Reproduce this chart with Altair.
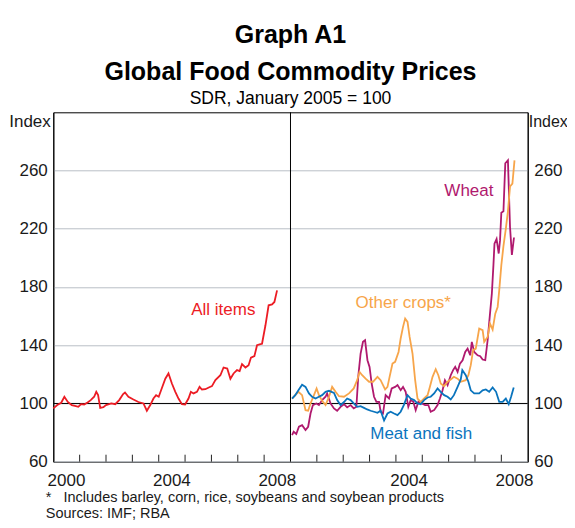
import altair as alt
import pandas as pd

FONT = "Liberation Sans"

# ---------------- data ----------------
series_names = ["All items", "Wheat", "Other crops*", "Meat and fish"]
series_colors = ["#ec1c24", "#b0196e", "#f7a54a", "#0a74bd"]

# left panel
all_items = [
    (2000.0, 96.6), (2000.15, 98.9), (2000.3, 100.5), (2000.42, 104.6), (2000.55, 101),
    (2000.7, 98.9), (2000.82, 98.4), (2000.95, 97.7), (2001.05, 99.5), (2001.17, 99.3),
    (2001.3, 100.7), (2001.42, 102.3), (2001.55, 104.6), (2001.63, 108), (2001.7, 105.7),
    (2001.78, 97), (2001.9, 97.5), (2002.0, 98.9), (2002.2, 100), (2002.35, 99.5),
    (2002.5, 102.3), (2002.65, 106.5), (2002.72, 107.5), (2002.85, 104.6), (2003.04, 102.7),
    (2003.23, 101), (2003.42, 100), (2003.55, 95), (2003.68, 98.9), (2003.8, 103.4),
    (2003.9, 105.7), (2004.0, 104.6), (2004.1, 109.6), (2004.25, 117), (2004.37, 120.6),
    (2004.5, 113.7), (2004.63, 108), (2004.75, 103.4), (2004.88, 99.5), (2005.0, 99.3),
    (2005.13, 103.4), (2005.22, 108), (2005.32, 106.9), (2005.45, 108), (2005.55, 111.4),
    (2005.64, 109.6), (2005.77, 109.8), (2005.9, 111), (2006.02, 111.9), (2006.15, 116),
    (2006.34, 119.4), (2006.46, 124.7), (2006.6, 124), (2006.72, 117), (2006.84, 120.6),
    (2006.97, 122.9), (2007.07, 122.2), (2007.16, 127), (2007.29, 124.7), (2007.41, 126.3),
    (2007.5, 131.5), (2007.63, 132.5), (2007.73, 140), (2007.86, 140.7), (2007.92, 141),
    (2008.05, 153.7), (2008.17, 167.4), (2008.3, 168), (2008.39, 169.7), (2008.49, 177.7),
]

# right panel
wheat = [
    (2000.06, 78.3), (2000.12, 80.6), (2000.22, 79), (2000.32, 84), (2000.44, 85.1),
    (2000.57, 81.7), (2000.67, 84), (2000.76, 93.1), (2000.85, 98.9), (2000.98, 100),
    (2001.08, 98.9), (2001.2, 102.3), (2001.33, 104.6), (2001.39, 106.9), (2001.52, 100),
    (2001.65, 96.6), (2001.77, 95), (2001.9, 97.7), (2002.03, 99.5), (2002.15, 97.3),
    (2002.28, 98.9), (2002.4, 96.6), (2002.5, 97.7), (2002.57, 118.3), (2002.66, 134.3),
    (2002.75, 142.3), (2002.83, 143.4), (2002.92, 129.7), (2003.0, 125.1), (2003.08, 113.7),
    (2003.17, 104.6), (2003.26, 101.1), (2003.36, 101.1), (2003.42, 94.3), (2003.51, 93.1),
    (2003.61, 105.7), (2003.74, 103.4), (2003.84, 110.3), (2003.97, 111.4), (2004.06, 112.6),
    (2004.18, 109.1), (2004.27, 111.4), (2004.37, 108), (2004.47, 97.7), (2004.56, 102.3),
    (2004.66, 101.1), (2004.75, 95.4), (2004.85, 101.1), (2004.98, 100), (2005.11, 98.9),
    (2005.23, 98.9), (2005.32, 94.3), (2005.45, 95.4), (2005.58, 98.9), (2005.67, 103.4),
    (2005.77, 109.1), (2005.86, 116), (2005.96, 112.6), (2006.08, 119.4), (2006.17, 122.9),
    (2006.25, 125.1), (2006.34, 121.7), (2006.43, 127.4), (2006.53, 129.7), (2006.63, 135.4),
    (2006.72, 137.7), (2006.82, 133.1), (2006.88, 142.3), (2006.97, 135.4), (2007.1, 133.1),
    (2007.2, 132.5), (2007.29, 130.2), (2007.39, 129.7), (2007.48, 143.4), (2007.57, 161.7),
    (2007.64, 175.4), (2007.7, 195), (2007.74, 209.7), (2007.82, 213), (2007.9, 203),
    (2007.95, 212), (2008.0, 231), (2008.08, 232), (2008.15, 265), (2008.25, 267),
    (2008.33, 221), (2008.4, 202), (2008.48, 214),
]

other_crops = [
    (2000.06, 103.4), (2000.18, 105.7), (2000.3, 108), (2000.44, 105.7), (2000.57, 95.4),
    (2000.67, 95), (2000.76, 100), (2000.89, 105.7), (2000.99, 110.3), (2001.08, 105.7),
    (2001.2, 101.8), (2001.33, 98.9), (2001.46, 104.6), (2001.58, 111.4), (2001.71, 108),
    (2001.84, 105), (2002.03, 104.6), (2002.22, 106.9), (2002.4, 110.3), (2002.53, 116),
    (2002.62, 121.7), (2002.72, 119.4), (2002.85, 117), (2002.98, 114.9), (2003.13, 114.9),
    (2003.3, 118.3), (2003.42, 116), (2003.59, 109.6), (2003.68, 111.4), (2003.76, 118.3),
    (2003.87, 127.4), (2003.97, 128.6), (2004.1, 135.4), (2004.18, 144.6), (2004.27, 152.6),
    (2004.35, 158.3), (2004.44, 156), (2004.52, 145.7), (2004.63, 134.3), (2004.73, 116),
    (2004.82, 103.4), (2004.94, 101.1), (2005.07, 103.4), (2005.2, 105.7), (2005.29, 111.4),
    (2005.39, 118.3), (2005.51, 123.5), (2005.61, 119.4), (2005.7, 113.7), (2005.83, 111.9),
    (2005.96, 114.9), (2006.08, 116.5), (2006.2, 118.3), (2006.34, 117), (2006.46, 114.9),
    (2006.65, 116), (2006.75, 119.4), (2006.84, 126.3), (2006.93, 136.6), (2007.03, 137.7),
    (2007.16, 151.4), (2007.29, 150.3), (2007.35, 142.3), (2007.48, 145.7), (2007.57, 154.9),
    (2007.67, 150.7), (2007.77, 161.7), (2007.86, 166.3), (2007.92, 177.7), (2008.0, 195),
    (2008.08, 208), (2008.17, 220), (2008.25, 232), (2008.33, 249), (2008.42, 251),
    (2008.5, 267),
]

meat_fish = [
    (2000.06, 103.4), (2000.18, 105.7), (2000.3, 109), (2000.44, 112.8), (2000.57, 111.4),
    (2000.7, 106.9), (2000.82, 104.6), (2000.95, 103.4), (2001.08, 104.6), (2001.2, 105.7),
    (2001.33, 108), (2001.46, 108.7), (2001.65, 107.3), (2001.77, 102.3), (2001.9, 98.9),
    (2002.03, 101), (2002.15, 103.4), (2002.28, 102.3), (2002.4, 100), (2002.53, 97.7),
    (2002.66, 98.2), (2002.79, 97), (2002.91, 95.9), (2003.04, 95), (2003.17, 94.3),
    (2003.3, 93.6), (2003.42, 95), (2003.55, 88.3), (2003.68, 93.1), (2003.8, 94.3),
    (2003.93, 93.1), (2004.06, 92), (2004.18, 94.3), (2004.3, 98.9), (2004.44, 105.7),
    (2004.56, 103.4), (2004.69, 102.3), (2004.82, 100), (2004.94, 99.5), (2005.07, 102.3),
    (2005.2, 104.1), (2005.32, 104.6), (2005.45, 106.9), (2005.58, 110.3), (2005.7, 108),
    (2005.83, 105.7), (2005.96, 104.6), (2006.08, 102.7), (2006.2, 105.7), (2006.34, 111.4),
    (2006.46, 116.5), (2006.52, 122.9), (2006.65, 119.4), (2006.75, 114.9), (2006.84, 109),
    (2006.97, 106.9), (2007.16, 106.9), (2007.29, 109), (2007.41, 109.6), (2007.54, 108),
    (2007.67, 111), (2007.8, 108), (2007.92, 101.1), (2008.05, 101.1), (2008.17, 103.4),
    (2008.28, 99.5), (2008.37, 104.6), (2008.47, 111),
]

# series label positions (year, value) and panel
label_text = ["All items", "Wheat", "Other crops*", "Meat and fish"]
label_t = [2006.45, 2006.77, 2004.28, 2004.96]
label_v = [164.5, 245.9, 168.8, 79]
label_panel = ["left", "right", "right", "right"]

y_ticks = [60, 100, 140, 180, 220, 260]
x_tick_years = [2001, 2002, 2003, 2004, 2005, 2006, 2007, 2008]
x_label_years_left = [2000, 2004, 2008]
x_label_years_right = [2004, 2008]

footnote = ["\u00a0\u00a0*\u00a0\u00a0\u00a0Includes barley, corn, rice, soybeans and soybean products",
            "Sources: IMF; RBA"]

# ---------------- tables ----------------
rows = []
for name, panel, pts in [("All items", "left", all_items), ("Wheat", "right", wheat),
                         ("Other crops*", "right", other_crops), ("Meat and fish", "right", meat_fish)]:
    for t, v in pts:
        rows.append({"series": name, "panel": panel, "t": t, "v": v})
df = pd.DataFrame(rows)

labels_df = pd.DataFrame({"series": label_text, "t": label_t, "v": label_v, "panel": label_panel})

ticks_df = pd.DataFrame(
    [{"t": y, "panel": "left"} for y in x_tick_years] + [{"t": y, "panel": "right"} for y in x_tick_years]
)
ticks_df["lo"] = 60
ticks_df["hi"] = 64.8

years_df = pd.DataFrame(
    [{"year": y, "panel": "left"} for y in x_label_years_left]
    + [{"year": y, "panel": "right"} for y in x_label_years_right]
)
years_df["t"] = years_df["year"] + 0.5   # label centred on the year
years_df["label"] = years_df["year"].astype(str)
years_df["v"] = 60

grid_df = pd.DataFrame({"v": y_ticks})

pos_expr = "datum.t - 2000 + (datum.panel == 'right' ? 9 : 0)"

xscale = alt.Scale(domain=[0, 18], nice=False, zero=False)
yscale = alt.Scale(domain=[60, 300], nice=False, zero=False)
cscale = alt.Scale(domain=series_names, range=series_colors)

TXT = "#1a1a1a"

y_axis_left = alt.Axis(
    values=y_ticks, orient="left", grid=True, gridColor="#b9bfc6", gridWidth=1,
    ticks=False, domain=True, domainColor="black", domainWidth=1,
    labelFont=FONT, labelFontSize=17, labelColor=TXT, labelPadding=6,
    title="Index", titleFont=FONT, titleFontSize=17, titleFontWeight="normal", titleColor=TXT,
    titleAngle=0, titleAlign="right", titleBaseline="alphabetic", titleX=-3, titleY=14,
)

y_axis_right = alt.Axis(
    values=y_ticks, orient="right", grid=False,
    ticks=False, domain=True, domainColor="black", domainWidth=1,
    labelFont=FONT, labelFontSize=17, labelColor=TXT, labelPadding=6,
    title="Index", titleFont=FONT, titleFontSize=16, titleFontWeight="normal", titleColor=TXT,
    titleAngle=0, titleAlign="left", titleBaseline="alphabetic", titleX=0.5, titleY=14,
)

PLOT_W = 474.4
PLOT_H = 349.4

hundred = alt.Chart(grid_df).transform_filter("datum.v == 100").mark_rule(color="black", strokeWidth=1).encode(
    y=alt.Y("v:Q", scale=yscale, axis=None)
)

lines = alt.Chart(df).transform_calculate(pos=pos_expr).mark_line(strokeWidth=1.8).encode(
    x=alt.X("pos:Q", scale=xscale, axis=None),
    y=alt.Y("v:Q", scale=yscale, axis=y_axis_left),
    color=alt.Color("series:N", scale=cscale, legend=None),
    order=alt.Order("t:Q"),
)

ticks = alt.Chart(ticks_df).transform_calculate(pos=pos_expr).mark_rule(color="#222", strokeWidth=1).encode(
    x=alt.X("pos:Q", scale=xscale, axis=None),
    y=alt.Y("lo:Q", scale=yscale, axis=None),
    y2="hi:Q",
)

divider = alt.Chart(grid_df).transform_filter("datum.v == 60").mark_rule(color="black", strokeWidth=1).encode(
    x=alt.XDatum(9, type="quantitative", scale=xscale, axis=None),
)

texts = alt.Chart(labels_df).transform_calculate(pos=pos_expr).mark_text(
    font=FONT, fontSize=17, align="center", baseline="middle"
).encode(
    x=alt.X("pos:Q", scale=xscale, axis=None),
    y=alt.Y("v:Q", scale=yscale, axis=None),
    text="series:N",
    color=alt.Color("series:N", scale=cscale, legend=None),
)

year_labels = alt.Chart(years_df).transform_calculate(pos=pos_expr).mark_text(
    font=FONT, fontSize=17, align="center", baseline="middle", dy=19, color=TXT
).encode(
    x=alt.X("pos:Q", scale=xscale, axis=None),
    y=alt.Y("v:Q", scale=yscale, axis=None),
    text="label:N",
)

notes = alt.Chart(pd.DataFrame({"k": [0]})).mark_text(
    text=footnote, font=FONT, fontSize=14.5, align="left", baseline="alphabetic",
    lineHeight=16, color=TXT,
).encode(
    x=alt.value(-7.5),
    y=alt.value(PLOT_H + 40.5),
)

right = alt.Chart(grid_df).mark_rule(opacity=0).encode(
    y=alt.Y("v:Q", scale=yscale, axis=y_axis_right)
)

chart = alt.layer(hundred, lines, ticks, divider, texts, year_labels, notes, right).resolve_axis(
    y="independent"
).properties(
    width=PLOT_W,
    height=PLOT_H,
    padding={"left": 45.3, "top": 104.3, "right": 39.2, "bottom": 58.2},
    autosize=alt.AutoSizeParams(type="none"),
    background="white",
    title=alt.TitleParams(
        text=["Graph A1", "Global Food Commodity Prices"],
        subtitle="SDR, January 2005 = 100",
        font=FONT, fontSize=25, fontWeight="bold", color="black", lineHeight=37,
        subtitleFont=FONT, subtitleFontSize=17.5, subtitleColor="black",
        anchor="middle", frame="group", offset=4, subtitlePadding=5,
    ),
).configure_view(stroke="black", strokeWidth=1)

chart.save("out.html", embed_options={"renderer": "svg", "actions": False})
